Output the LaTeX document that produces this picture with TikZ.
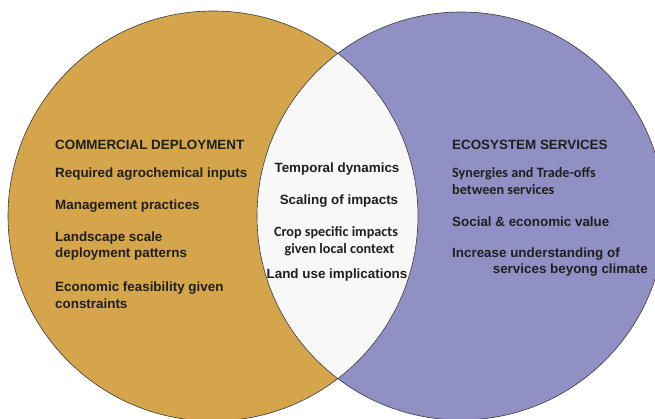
\documentclass[tikz,border=0pt]{standalone}
\usepackage{fontspec}
\setmainfont{Liberation Sans}
\newfontfamily\calibfont{Carlito}
\definecolor{ochre}{HTML}{D4A54B}
\definecolor{lavender}{HTML}{9190C5}
\definecolor{lens}{HTML}{F8F8F8}
\definecolor{edge}{HTML}{3A3A3A}
\begin{document}
\begin{tikzpicture}[x=1pt,y=-1pt,
  lbl/.style={font=\bfseries\fontsize{13.4}{16.5}\selectfont, text=black!88, inner sep=0pt},
  calib/.style={font=\calibfont\bfseries\fontsize{14.2}{16.5}\selectfont},
  lblL/.style={lbl, anchor=west, align=left},
  lblC/.style={lbl, anchor=center, align=center},
  circ/.style={draw=edge, line width=0.6pt}]
\useasboundingbox (0,0) rectangle (655,419);
\begin{scope}
\clip (0,0) rectangle (655,419);
\fill[ochre] (213,216) circle (205);
\fill[lavender] (461,216) circle (204);
\begin{scope}
\clip (213,216) circle (205);
\fill[lens] (461,216) circle (204);
\end{scope}
\draw[circ] (213,216) circle (205);
\draw[circ] (461,216) circle (204);
\end{scope}
% left
\node[lblL] (c1) at (55,145) {COMMERCIAL DEPLOYMENT};
\node[lblL] (c2) at (55,174) {Required agrochemical inputs};
\node[lblL] (c3) at (55,206) {Management practices};
\node[lblL] (c4) at (55,246) {Landscape scale\\deployment patterns};
\node[lblL] (c5) at (55,295) {Economic feasibility given\\constraints};
% middle
\node[lblC] (m1) at (337,169) {Temporal dynamics};
\node[lblC] (m2) at (339,201) {Scaling of impacts};
\node[lblC, calib] (m3) at (336,241) {Crop specific impacts\\\hspace*{7pt}given local context};
\node[lblC] (m4) at (337,275) {Land use implications};
% right
\node[lblL] (e1) at (452,145) {ECOSYSTEM SERVICES};
\node[lblL, calib] (e2) at (452,181) {Synergies and Trade-offs\\between services};
\node[lblL] (e3) at (452,222) {Social \& economic value};
\node[lblL, align=right] (e4) at (452,262) {Increase understanding of\hspace*{28pt}\\services beyong climate};
\end{tikzpicture}
\end{document}
